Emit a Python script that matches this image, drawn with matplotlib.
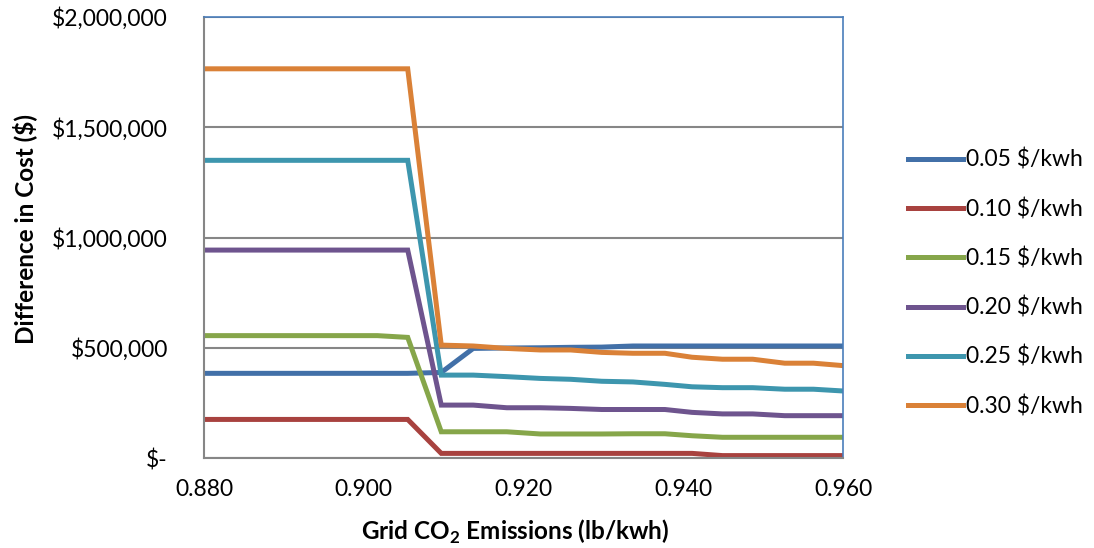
import matplotlib
matplotlib.use('Agg')
import matplotlib.pyplot as plt
from matplotlib.ticker import FuncFormatter

plt.rcParams['font.family'] = ['Lato', 'DejaVu Sans']
plt.rcParams['mathtext.fontset'] = 'custom'
plt.rcParams['mathtext.rm'] = 'Lato'
plt.rcParams['mathtext.bf'] = 'Lato:bold'

# grid CO2 emissions (lb/kwh)
emissions = [0.880, 0.9017, 0.9055, 0.9097, 0.9137, 0.9179, 0.9221, 0.9259, 0.9298,
             0.9337, 0.9377, 0.9411, 0.9449, 0.9487, 0.9527, 0.9563, 0.9600]

cost_005 = [384000, 384000, 384000, 388000, 497000, 499000, 500000, 502000, 503000,
            508000, 508000, 508000, 508000, 508000, 508000, 508000, 508000]
cost_010 = [175000, 175000, 175000, 21000, 21000, 21000, 21000, 21000, 21000,
            21000, 21000, 21000, 11000, 11000, 11000, 11000, 11000]
cost_015 = [555000, 555000, 547000, 119000, 119000, 119000, 109000, 109000, 109000,
            110000, 110000, 101000, 94000, 94000, 94000, 94000, 94000]
cost_020 = [943000, 943000, 943000, 240000, 240000, 228000, 228000, 225000, 220000,
            220000, 220000, 207000, 200000, 200000, 192000, 192000, 192000]
cost_025 = [1350000, 1350000, 1350000, 376000, 376000, 369000, 361000, 357000, 348000,
            345000, 334000, 323000, 319000, 319000, 312000, 312000, 304000]
cost_030 = [1765000, 1765000, 1765000, 512000, 508000, 497000, 490000, 490000, 479000,
            475000, 475000, 457000, 448000, 448000, 430000, 430000, 419000]

labels = ['0.05 $/kwh', '0.10 $/kwh', '0.15 $/kwh', '0.20 $/kwh', '0.25 $/kwh', '0.30 $/kwh']
colors = ['#4270a8', '#a8423f', '#86a64a', '#6e548e', '#3d96ae', '#da8137']
series = [cost_005, cost_010, cost_015, cost_020, cost_025, cost_030]

fig = plt.figure(figsize=(10.94, 5.48), dpi=100)
ax = fig.add_axes([0.1865, 0.1642, 0.5841, 0.8048])

for vals, lab, col in zip(series, labels, colors):
    ax.plot(emissions, vals, color=col, lw=3.6, label=lab, solid_joinstyle='miter')

ax.set_xlim(0.88, 0.96)
ax.set_ylim(0, 2000000)
ax.set_xticks([0.88, 0.90, 0.92, 0.94, 0.96])
ax.set_yticks([0, 500000, 1000000, 1500000, 2000000])
ax.xaxis.set_major_formatter(FuncFormatter(lambda v, p: '%.3f' % v))
ax.yaxis.set_major_formatter(FuncFormatter(lambda v, p: '$-' if v == 0 else '${:,.0f}'.format(v)))
ax.tick_params(axis='both', length=0, labelsize=16.5, colors='black')
ax.tick_params(axis='y', pad=26)
ax.tick_params(axis='x', pad=15)

ax.grid(axis='y', color='#868686', lw=1.5)
ax.set_axisbelow(True)
for s in ['left', 'bottom']:
    ax.spines[s].set_color('#868686')
    ax.spines[s].set_linewidth(1.5)
for s in ['top', 'right']:
    ax.spines[s].set_color('#4a7ebb')
    ax.spines[s].set_linewidth(1.2)

ax.set_ylabel('Difference in Cost ($)', fontsize=17.5, fontweight='bold')
ax.set_xlabel(r'Grid CO$_\mathbf{2}$ Emissions (lb/kwh)', fontsize=17.5, fontweight='bold')
ax.yaxis.set_label_coords(-0.262, 0.519)
ax.xaxis.set_label_coords(0.4875, -0.136)

fig.legend(loc='center left', bbox_to_anchor=(0.830, 0.4836), frameon=False,
           fontsize=16.5, handlelength=2.4, handletextpad=0.13, labelspacing=1.19,
           borderpad=0, borderaxespad=0)

fig.savefig('out.png', dpi=100)
